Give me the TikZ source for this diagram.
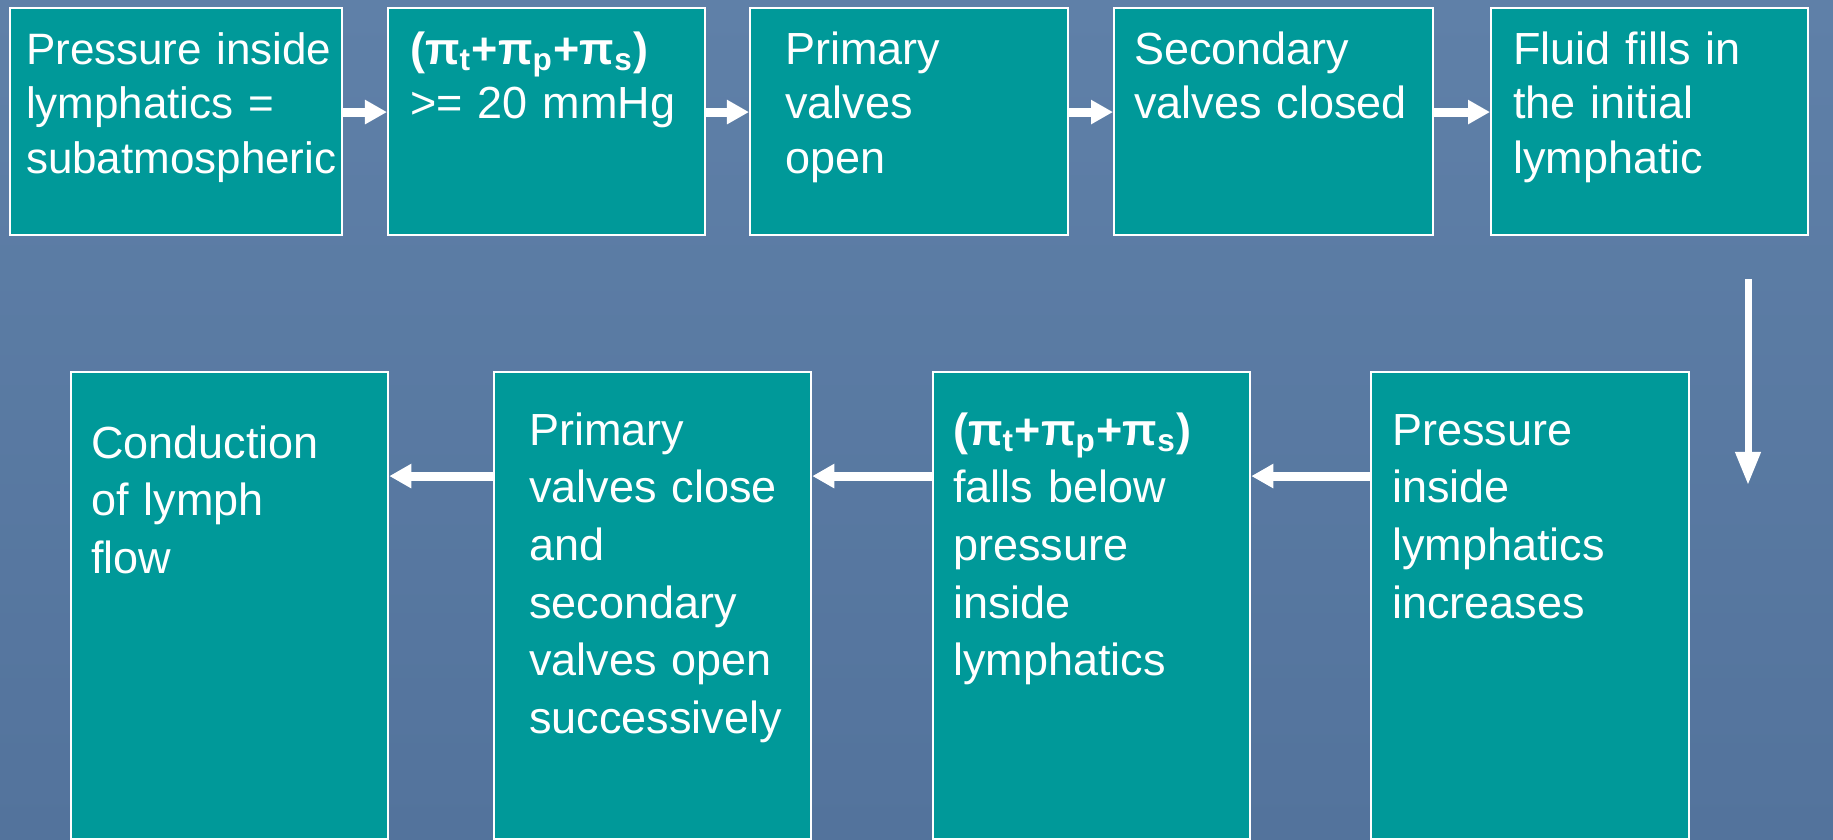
\documentclass[tikz,border=0pt]{standalone}
\usepackage{fontspec}
\setmainfont{Liberation Sans}
\usetikzlibrary{arrows.meta}
\definecolor{slidetop}{HTML}{5F80A8}
\definecolor{slidebottom}{HTML}{53739C}
\definecolor{boxteal}{HTML}{009999}
\tikzset{
  stepbox/.style={
    draw = white,
    line width = 0.6pt,
    fill = boxteal,
    text = white,
    anchor = north west,
    align = left,
    inner ysep = 0pt
  },
  toprow/.style={
    stepbox,
    font = {\fontsize{12.8pt}{15.6pt}\selectfont\hyphenpenalty=10000},
    text height = 0.56cm,
    text depth = 1.71cm
  },
  lowrow/.style={
    stepbox,
    font = {\fontsize{12.8pt}{16.4pt}\selectfont\hyphenpenalty=10000},
    text height = 0.73cm,
    text depth = 3.94cm
  },
  flowarrow/.style={
    draw = white,
    line width = 0.09cm,
    -{Triangle[length=0.22cm, width=0.23cm]}
  },
  dropArrow/.style={
    draw = white,
    line width = 0.07cm,
    -{Triangle[length=0.33cm, width=0.24cm]}
  }
}
\newcommand{\pisum}{\textbf{(π\textsubscript{t}+π\textsubscript{p}+π\textsubscript{s})}}

\begin{document}
\begin{tikzpicture}[x=0.01cm, y=-0.01cm]
    \def\dy{1.05cm}
    \fill[top color=slidetop, bottom color=slidebottom] (0,0) rectangle (1833,839);
    \useasboundingbox (0,0) rectangle (1833,839);
    % top row
    \node[toprow, font={\fontsize{12.5pt}{15.6pt}\selectfont\hyphenpenalty=10000},
          inner xsep=0.16cm, text width=3.00cm] (s1) at (9,7)
        {\mbox{Pressure inside}\\ lymphatics~=\\ subatmospheric};
    \node[toprow, inner xsep=0.22cm, text width=2.73cm] (s2) at (387,7)
        {\pisum\\ >=~20~mmHg};
    \node[toprow, inner xsep=0.35cm, text width=2.48cm] (s3) at (749,7)
        {Primary\\ valves\\ open};
    \node[toprow, inner xsep=0.20cm, text width=2.79cm] (s4) at (1113,7)
        {Secondary\\ valves~closed};
    \node[toprow, inner xsep=0.22cm, text width=2.73cm] (s5) at (1490,7)
        {Fluid~fills~in\\ the~initial\\ lymphatic};
    % bottom row
    \node[lowrow, inner xsep=0.21cm, text width=2.76cm] (s6) at (1370,371)
        {Pressure\\ inside\\ lymphatics\\ increases};
    \node[lowrow, inner xsep=0.20cm, text width=2.77cm] (s7) at (932,371)
        {\pisum\\ falls~below\\ pressure\\ inside\\ lymphatics};
    \node[lowrow, inner xsep=0.35cm, text width=2.47cm] (s8) at (493,371)
        {Primary\\ valves~close\\ and\\ secondary\\ valves~open\\ successively};
    \node[lowrow, inner xsep=0.20cm, text width=2.77cm, text height=0.86cm, text depth=3.81cm] (s9) at (70,371)
        {Conduction\\ of~lymph\\ flow};
    % arrows
    \foreach \a/\b in {s1/s2, s2/s3, s3/s4, s4/s5}{
        \draw[flowarrow] ([yshift=-\dy]\a.north east) -- ([yshift=-\dy]\b.north west);
    }
    \foreach \a/\b in {s6/s7, s7/s8, s8/s9}{
        \draw[flowarrow] ([yshift=-\dy]\a.north west) -- ([yshift=-\dy]\b.north east);
    }
    \coordinate (dtop) at (1748,279);
    \coordinate (dbot) at (1748,485);
    \draw[dropArrow] (dtop) -- (dbot);
\end{tikzpicture}
\end{document}
